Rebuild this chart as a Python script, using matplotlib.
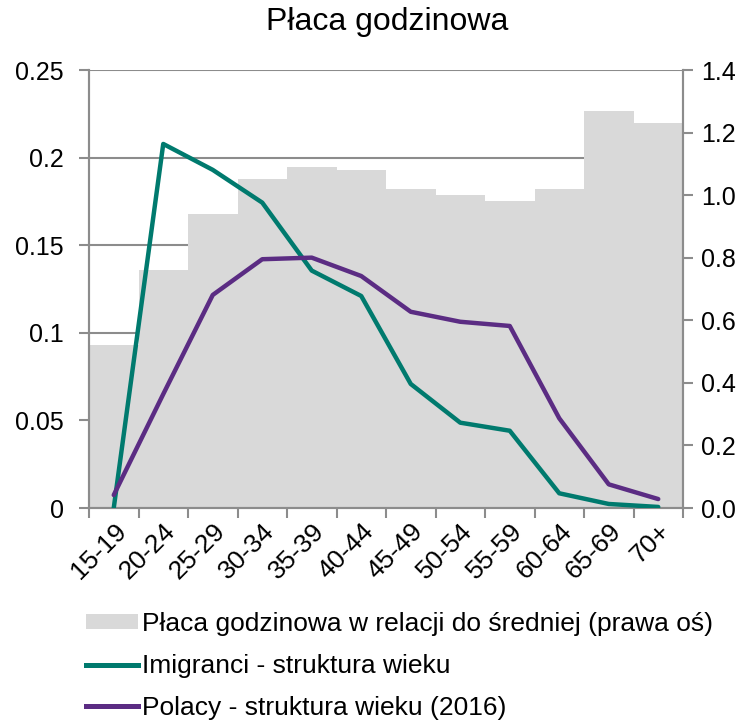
import matplotlib
matplotlib.use("Agg")
import matplotlib.pyplot as plt
from matplotlib.patches import Patch
from matplotlib.lines import Line2D
import numpy as np

plt.rcParams['font.family'] = ['Liberation Sans', 'DejaVu Sans']

categories = ["15-19", "20-24", "25-29", "30-34", "35-39", "40-44",
              "45-49", "50-54", "55-59", "60-64", "65-69", "70+"]
wage_rel = [0.52, 0.76, 0.94, 1.05, 1.09, 1.08, 1.02, 1.00, 0.98, 1.02, 1.27, 1.23]
immigrants = [0.0, 0.2078, 0.193, 0.1743, 0.1355, 0.121, 0.0708, 0.0487, 0.0441, 0.0084, 0.0023, 0.0006]
poles = [0.0074, 0.065, 0.1216, 0.142, 0.1429, 0.1324, 0.112, 0.1063, 0.1039, 0.0512, 0.0135, 0.0051]

left_ticks = [0, 0.05, 0.1, 0.15, 0.2, 0.25]
left_labels = ["0", "0.05", "0.1", "0.15", "0.2", "0.25"]
right_ticks = [0.0, 0.2, 0.4, 0.6, 0.8, 1.0, 1.2, 1.4]

bar_color = "#D9D9D9"
green = "#007A6E"
purple = "#5B2C83"
axis_gray = "#8C8C8C"

fig = plt.figure(figsize=(7.48, 7.21), dpi=100)
ax = fig.add_axes([89/748, 1-508/721, (683-89)/748, (508-70)/721])
x = np.arange(len(categories))

# bars on primary axis (right scale)
ax.bar(x, wage_rel, width=1.0, color=bar_color, edgecolor='none', zorder=2)
ax.set_ylim(0, 1.4)
ax.set_xlim(-0.5, len(categories)-0.5)
for t in left_ticks[1:]:
    ax.axhline(t/0.25*1.4, color=axis_gray, lw=1.5, zorder=1)

# lines on twin axis (left scale)
ax2 = ax.twinx()
ax2.plot(x, immigrants, color=green, lw=3.2, solid_capstyle='round', zorder=3)
ax2.plot(x, poles, color=purple, lw=3.2, solid_capstyle='round', zorder=3)
ax2.set_ylim(0, 0.25)
ax2.yaxis.tick_left()
ax2.set_yticks(left_ticks)
ax2.set_yticklabels(left_labels)

ax.yaxis.tick_right()
ax.set_yticks(right_ticks)
ax.set_yticklabels([f"{v:.1f}" for v in right_ticks])

for a in (ax, ax2):
    for s in a.spines.values():
        s.set_color(axis_gray)
        s.set_linewidth(1.5)
    a.spines['top'].set_visible(False)
    a.tick_params(axis='y', colors=axis_gray, labelcolor='black', labelsize=18,
                  length=7, width=1.5, pad=6)
ax2.tick_params(axis='y', pad=11)

# x ticks: boundaries as tick marks, labels at centers
ax.set_xticks(np.arange(-0.5, len(categories), 1.0))
ax.set_xticklabels([])
ax.set_xticks(x, minor=True)
ax.set_xticklabels(categories, minor=True, rotation=45, ha='right',
                   rotation_mode='anchor', fontsize=19)
ax.tick_params(axis='x', which='major', colors=axis_gray, length=7, width=1.5)
ax.tick_params(axis='x', which='minor', length=0, pad=8, labelcolor='black')
ax2.tick_params(axis='x', which='both', bottom=False, labelbottom=False)

fig.text(387/748, 1-22/721, "Płaca godzinowa", ha='center', va='center', fontsize=23)

handles = [Patch(facecolor=bar_color, edgecolor='none'),
           Line2D([0], [0], color=green, lw=3.6),
           Line2D([0], [0], color=purple, lw=3.6)]
labels = ["Płaca godzinowa w relacji do średniej (prawa oś)",
          "Imigranci - struktura wieku",
          "Polacy - struktura wieku (2016)"]
fig.legend(handles, labels, loc='upper left', bbox_to_anchor=(86/748, 1-612/721),
           frameon=False, fontsize=19, handlelength=1.97, handleheight=0.5,
           handletextpad=0.15, labelspacing=0.68, borderaxespad=0, borderpad=0)

fig.savefig("out.png", dpi=100)
